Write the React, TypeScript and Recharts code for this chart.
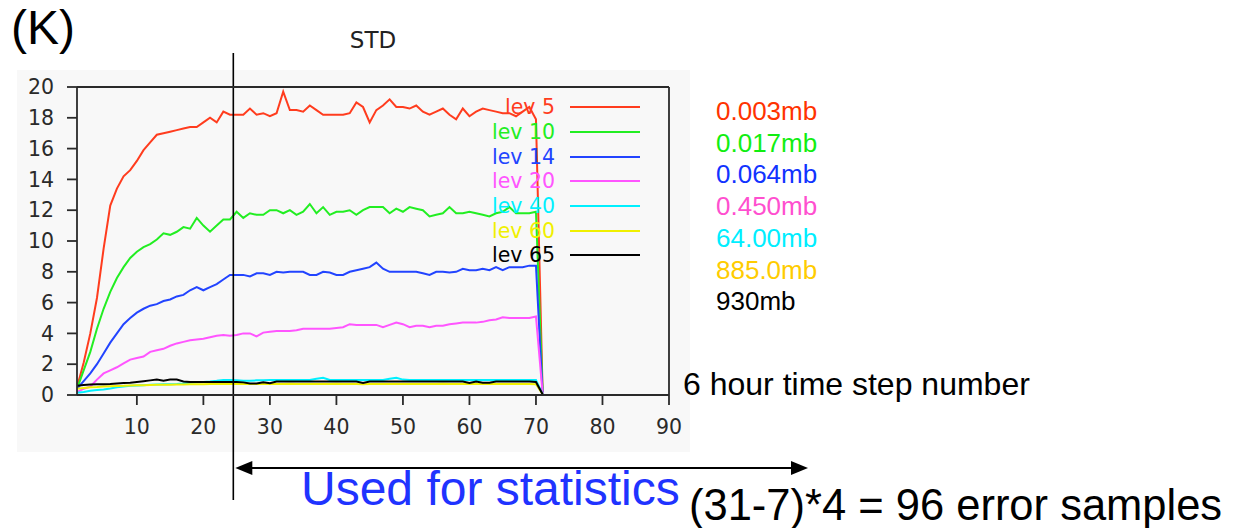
import { LineChart, Line, XAxis, YAxis, Legend, ReferenceLine } from 'recharts';

// x = 6 hour time step number
const steps = Array.from({ length: 71 }, (_, i) => i + 1);

const lev5 = [
    0.5, 2.1, 4.0, 6.3, 9.5, 12.3, 13.4, 14.2, 14.6, 15.2,
    15.9, 16.4, 16.9, 17.0, 17.1, 17.2, 17.3, 17.4, 17.4, 17.7,
    18.0, 17.7, 18.4, 18.2, 18.2, 18.2, 18.6, 18.2, 18.3, 18.1,
    18.3, 19.7, 18.5, 18.5, 18.4, 18.8, 18.5, 18.2, 18.2, 18.2,
    18.2, 18.3, 19.0, 18.7, 17.7, 18.5, 18.8, 19.2, 18.7, 18.7,
    18.6, 18.8, 18.4, 18.2, 18.4, 18.6, 18.2, 17.9, 18.6, 18.1,
    18.4, 18.6, 18.5, 18.4, 18.3, 18.3, 18.1, 18.4, 18.7, 17.9,
    0.2,
];
const lev10 = [
    0.4, 1.6, 2.8, 4.3, 5.6, 6.7, 7.6, 8.3, 8.9, 9.3,
    9.6, 9.8, 10.1, 10.5, 10.4, 10.6, 10.9, 10.8, 11.5, 11.0,
    10.6, 11.0, 11.4, 11.4, 11.9, 11.5, 11.8, 11.7, 11.7, 12.0,
    12.0, 11.8, 12.0, 11.7, 11.9, 12.4, 11.8, 12.2, 11.7, 11.9,
    11.9, 12.0, 11.7, 12.0, 12.2, 12.2, 12.2, 11.8, 12.1, 11.9,
    12.2, 12.1, 12.0, 11.6, 11.7, 11.8, 12.2, 11.8, 11.8, 11.9,
    11.8, 11.7, 11.6, 11.8, 11.9, 12.2, 11.8, 11.8, 11.8, 11.9,
    0.2,
];
const lev14 = [
    0.4, 0.9, 1.4, 2.0, 2.7, 3.4, 4.0, 4.6, 5.0, 5.35,
    5.6, 5.8, 5.9, 6.1, 6.2, 6.4, 6.5, 6.8, 7.0, 6.8,
    7.0, 7.2, 7.5, 7.8, 7.8, 7.8, 7.7, 7.9, 7.9, 7.8,
    8.0, 7.95, 8.0, 8.0, 8.0, 7.8, 7.8, 8.0, 7.95, 7.8,
    7.8, 8.0, 8.1, 8.2, 8.3, 8.6, 8.2, 8.0, 8.0, 8.0,
    8.0, 8.0, 7.9, 7.8, 8.0, 8.0, 7.95, 8.0, 8.2, 8.1,
    8.1, 8.2, 8.1, 8.3, 8.1, 8.3, 8.3, 8.3, 8.4, 8.4,
    0.1,
];
const lev20 = [
    0.2, 0.4, 0.55, 1.0, 1.4, 1.6, 1.8, 2.05, 2.3, 2.4,
    2.5, 2.8, 2.9, 3.0, 3.2, 3.35, 3.45, 3.55, 3.6, 3.65,
    3.75, 3.85, 3.9, 3.85, 3.9, 4.0, 4.0, 3.8, 4.05, 4.1,
    4.15, 4.15, 4.15, 4.2, 4.3, 4.3, 4.3, 4.3, 4.3, 4.35,
    4.4, 4.6, 4.55, 4.55, 4.55, 4.55, 4.4, 4.55, 4.7, 4.6,
    4.4, 4.5, 4.5, 4.4, 4.5, 4.5, 4.6, 4.65, 4.7, 4.7,
    4.7, 4.75, 4.85, 4.9, 5.05, 5.0, 5.0, 5.0, 5.0, 5.1,
    0.1,
];
const lev40 = [
    0.15, 0.2, 0.28, 0.32, 0.36, 0.42, 0.5, 0.55, 0.6, 0.62,
    0.64, 0.66, 0.68, 0.7, 0.7, 0.72, 0.75, 0.8, 0.82, 0.85,
    0.88, 0.92, 0.98, 0.98, 0.96, 0.93, 0.93, 0.95, 0.96, 0.98,
    0.98, 0.98, 0.98, 0.98, 0.98, 0.98, 1.05, 1.12, 0.98, 0.98,
    0.98, 0.98, 0.98, 0.98, 0.98, 0.98, 0.98, 1.05, 1.12, 1.0,
    0.98, 0.98, 0.98, 0.98, 0.98, 0.98, 0.98, 0.98, 0.98, 0.98,
    0.98, 0.98, 0.98, 0.98, 0.98, 0.98, 0.98, 0.98, 0.98, 0.97,
    0.05,
];
const lev60 = [
    0.4, 0.45, 0.5, 0.52, 0.55, 0.57, 0.59, 0.6, 0.62, 0.63,
    0.64, 0.65, 0.66, 0.67, 0.67, 0.68, 0.68, 0.69, 0.7, 0.7,
    0.71, 0.72, 0.72, 0.72, 0.72, 0.72, 0.71, 0.72, 0.72, 0.72,
    0.72, 0.72, 0.73, 0.72, 0.72, 0.72, 0.72, 0.72, 0.72, 0.73,
    0.72, 0.72, 0.72, 0.7, 0.72, 0.72, 0.72, 0.72, 0.72, 0.72,
    0.72, 0.72, 0.72, 0.72, 0.72, 0.73, 0.72, 0.72, 0.72, 0.71,
    0.72, 0.72, 0.72, 0.72, 0.72, 0.72, 0.72, 0.72, 0.72, 0.7,
    0.05,
];
const lev65 = [
    0.6, 0.65, 0.68, 0.7, 0.7, 0.72, 0.75, 0.78, 0.8, 0.85,
    0.9, 0.95, 1.0, 0.93, 1.0, 1.0, 0.88, 0.85, 0.85, 0.85,
    0.85, 0.85, 0.85, 0.85, 0.85, 0.82, 0.75, 0.75, 0.82, 0.76,
    0.87, 0.87, 0.87, 0.87, 0.87, 0.87, 0.87, 0.87, 0.87, 0.87,
    0.87, 0.87, 0.87, 0.78, 0.87, 0.87, 0.87, 0.87, 0.87, 0.87,
    0.87, 0.87, 0.87, 0.87, 0.87, 0.87, 0.87, 0.87, 0.87, 0.78,
    0.87, 0.8, 0.8, 0.87, 0.87, 0.87, 0.87, 0.87, 0.87, 0.85,
    0.05,
];

const levNames = ['lev 5', 'lev 10', 'lev 14', 'lev 20', 'lev 40', 'lev 60', 'lev 65'];
const pressures = ['0.003mb', '0.017mb', '0.064mb', '0.450mb', '64.00mb', '885.0mb', '930mb'];
const xTicks = [10, 20, 30, 40, 50, 60, 70, 80, 90];
const yTicks = [0, 2, 4, 6, 8, 10, 12, 14, 16, 18, 20];

const SERIES = [
    { key: 'lev5', values: lev5, color: '#ff3c1e', textColor: '#ff3300' },
    { key: 'lev10', values: lev10, color: '#22ee22', textColor: '#11ee11' },
    { key: 'lev14', values: lev14, color: '#2244ff', textColor: '#1133ff' },
    { key: 'lev20', values: lev20, color: '#ff55ff', textColor: '#ff4fcf' },
    { key: 'lev40', values: lev40, color: '#00f0ff', textColor: '#00eeff' },
    { key: 'lev60', values: lev60, color: '#f0f000', textColor: '#ffcc00' },
    { key: 'lev65', values: lev65, color: '#000000', textColor: '#000000' },
];

const data = steps.map((s, i) => {
    const row: Record<string, number> = { step: s };
    SERIES.forEach(ser => { row[ser.key] = ser.values[i]; });
    return row;
});

const pixelFont = '"DejaVu Sans", sans-serif';
const axisColor = '#2a2a2a';

const renderLegend = () => (
    <div style={{ width: 180 }}>
        {SERIES.map((s, i) => (
            <div key={s.key} style={{ height: 24.7, display: 'flex', alignItems: 'center' }}>
                <span style={{ width: 85, textAlign: 'right', color: s.color, fontFamily: pixelFont, fontSize: 20.5, lineHeight: '22px' }}>
                    {levNames[i]}
                </span>
                <span style={{ marginLeft: 15, width: 70, height: 2, background: s.color }} />
            </div>
        ))}
    </div>
);

// vertical marker at step 24.5 plus the "used for statistics" arrow
const StatsMarker = (p: any) => {
    const x = p.x1;
    return (
        <g>
            <line x1={x} y1={53} x2={x} y2={500} stroke="#000" strokeWidth={1.6} />
            <line x1={x + 12} y1={468} x2={796} y2={468} stroke="#000" strokeWidth={2} />
            <polygon points={`${x + 2},468 ${x + 19},461 ${x + 19},475`} fill="#000" />
            <polygon points={`808,468 791,461 791,475`} fill="#000" />
        </g>
    );
};

export default function App() {
    return (
        <div style={{ position: 'absolute', left: 0, top: 0, width: 1243, height: 528, background: '#fff', overflow: 'hidden', fontFamily: '"Liberation Sans", Arial, sans-serif' }}>
            <div style={{ position: 'absolute', left: 17, top: 70, width: 673, height: 382, background: '#f8f8f8' }} />
            <div style={{ position: 'absolute', left: 11, top: 0, fontSize: 48, lineHeight: '56px', color: '#000' }}>(K)</div>
            <div style={{ position: 'absolute', left: 323, top: 27, width: 100, textAlign: 'center', fontFamily: pixelFont, fontSize: 23, color: '#222' }}>STD</div>

            <div style={{ position: 'absolute', left: 0, top: 0 }}>
                <LineChart width={1243} height={528} data={data} margin={{ top: 77, right: 564, bottom: 93, left: 17 }}>
                    <XAxis
                        dataKey="step"
                        type="number"
                        domain={[1, 90]}
                        ticks={xTicks}
                        allowDataOverflow
                        height={40}
                        tickSize={10}
                        tickMargin={14}
                        stroke={axisColor}
                        axisLine={{ stroke: axisColor, strokeWidth: 1.8 }}
                        tickLine={{ stroke: axisColor, strokeWidth: 1.8 }}
                        tick={{ fill: axisColor, fontSize: 20.5, fontFamily: pixelFont }}
                    />
                    <XAxis
                        xAxisId="top"
                        orientation="top"
                        dataKey="step"
                        type="number"
                        domain={[1, 90]}
                        ticks={xTicks}
                        allowDataOverflow
                        height={10}
                        tickSize={10}
                        tick={false}
                        axisLine={{ stroke: axisColor, strokeWidth: 1.8 }}
                        tickLine={{ stroke: axisColor, strokeWidth: 1.8 }}
                    />
                    <YAxis
                        type="number"
                        domain={[0, 20]}
                        ticks={yTicks}
                        allowDataOverflow
                        width={60}
                        tickSize={10}
                        tickMargin={13}
                        axisLine={{ stroke: axisColor, strokeWidth: 1.8 }}
                        tickLine={{ stroke: axisColor, strokeWidth: 1.8 }}
                        tick={{ fill: axisColor, fontSize: 20.5, fontFamily: pixelFont }}
                    />
                    <YAxis
                        yAxisId="right"
                        orientation="right"
                        type="number"
                        domain={[0, 20]}
                        ticks={yTicks}
                        width={10}
                        tickSize={9}
                        tick={false}
                        axisLine={{ stroke: axisColor, strokeWidth: 1.8 }}
                        tickLine={{ stroke: axisColor, strokeWidth: 1.8 }}
                    />
                    <Legend
                        layout="horizontal"
                        verticalAlign="middle"
                        align="center"
                        content={renderLegend}
                        wrapperStyle={{ position: 'absolute', left: 470, top: 95, width: 180 }}
                    />
                    {SERIES.map(s => (
                        <Line
                            key={s.key}
                            type="linear"
                            dataKey={s.key}
                            stroke={s.color}
                            strokeWidth={2}
                            dot={false}
                            activeDot={false}
                            isAnimationActive={false}
                        />
                    ))}
                    <ReferenceLine x={24.5} shape={StatsMarker} />
                </LineChart>
            </div>

            {pressures.map((p, i) => (
                <div key={p} style={{ position: 'absolute', left: 716, top: 96 + i * 31.7, fontSize: 26, lineHeight: '30px', color: SERIES[i].textColor }}>
                    {p}
                </div>
            ))}
            <div style={{ position: 'absolute', left: 683, top: 365, fontSize: 32, lineHeight: '38px', color: '#000', whiteSpace: 'nowrap' }}>
                6 hour time step number
            </div>
            <div style={{ position: 'absolute', left: 301, top: 461, fontSize: 48, lineHeight: '56px', color: '#1f33ff', whiteSpace: 'nowrap' }}>
                Used for statistics
            </div>
            <div style={{ position: 'absolute', left: 689, top: 480, fontSize: 43.5, lineHeight: '50px', color: '#000', whiteSpace: 'nowrap' }}>
                (31-7)*4 = 96 error samples
            </div>
        </div>
    );
}
